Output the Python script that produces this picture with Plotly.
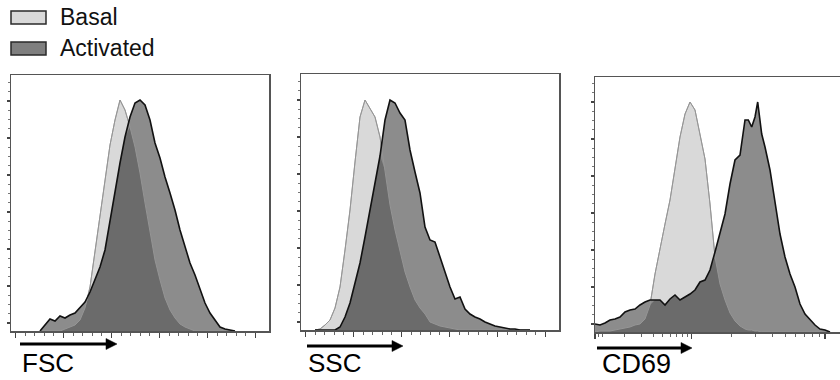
import numpy as np
import plotly.graph_objects as go

# ---------------- data (channel position, event height) ----------------
# Panel 1: FSC
fsc_x = [29, 34, 39, 44, 49, 54, 59, 64, 69, 74, 79, 84, 89, 94, 99, 104, 109, 114, 119, 124,
         129, 134, 139, 144, 149, 154, 159, 164, 169, 174, 179, 184, 189, 194, 199, 204, 209, 214, 219, 224]
fsc_basal = [0, 0, 0, 0, 0, 2, 4, 6, 11, 23, 44, 79, 114, 154, 186, 211, 231, 221, 204, 184,
             158, 128, 98, 71, 51, 33, 21, 13, 7, 4, 2, 0, 0, 0, 0, 0, 0, 0, 0, 0]
fsc_activated = [0, 6, 12, 10, 15, 13, 16, 18, 23, 29, 39, 51, 64, 81, 108, 139, 168, 194, 214, 228,
                 231, 226, 211, 188, 173, 154, 138, 121, 101, 84, 68, 56, 43, 28, 18, 11, 4, 2, 1, 0]

# Panel 2: SSC
ssc_x = [14, 19, 24, 29, 34, 39, 44, 49, 54, 59, 64, 69, 74, 79, 84, 89, 94, 99, 104, 109, 114, 119,
         124, 129, 134, 139, 144, 149, 154, 159, 164, 169, 174, 179, 184, 189, 194, 199, 204, 209, 214, 219, 224, 229]
ssc_basal = [0, 1, 5, 10, 22, 43, 80, 120, 168, 213, 230, 222, 213, 193, 160, 125, 100, 78, 58, 43, 30, 22,
             16, 8, 6, 4, 3, 2, 1, 0, 0, 0, 0, 0, 0, 0, 0, 0, 0, 0, 0, 0, 0, 0]
ssc_activated = [0, 0, 0, 0, 0, 3, 13, 27, 47, 67, 93, 120, 150, 174, 210, 230, 227, 217, 210, 180, 158, 137,
                 103, 90, 88, 73, 58, 43, 31, 33, 21, 16, 13, 11, 8, 6, 4, 3, 2, 1, 1, 0, 0, 0]

# Panel 3: CD69
cd69_x = [0, 5, 10, 15, 20, 25, 30, 35, 40, 45, 50, 55, 60, 65, 70, 75, 80, 85, 90, 95, 100, 105, 110, 115,
          120, 125, 130, 135, 140, 145, 150, 153.3, 156.7, 160, 162.7, 166.7, 170, 175, 180, 185, 190, 195,
          200, 205, 210, 215, 220, 225, 230, 235]
cd69_basal = [0, 1, 1, 1, 2, 3, 4, 5, 7, 8, 13, 27, 58, 85, 108, 132, 162, 195, 218, 230, 222, 198, 173, 128,
              75, 48, 32, 19, 11, 6, 3, 2, 2, 1, 1, 0, 0, 0, 0, 0, 0, 0, 0, 0, 0, 0, 0, 0, 0, 0]
cd69_activated = [8, 7, 9, 12, 13, 15, 20, 22, 23, 27, 30, 32, 32, 32, 27, 33, 37, 32, 35, 38, 42, 50, 52, 62,
                  80, 98, 118, 148, 172, 177, 212, 212, 205, 215, 230, 198, 185, 162, 128, 98, 75, 58,
                  45, 28, 18, 12, 7, 3, 2, 0]

labels = ["FSC", "SSC", "CD69"]
legend_names = ["Basal", "Activated"]

# ---------------- styling ----------------
W, H = 840, 380
FONT = "Liberation Sans, Arial, sans-serif"
BASAL_FILL = "#d9d9d9"
BASAL_LINE = "#a3a3a3"
ACT_FILL = "#8c8c8c"
OVERLAP_FILL = "#6b6b6b"
ACT_LINE = "#111111"
AXIS_COL = "#555555"


def px(x):
    return x / W


def py(y):
    return 1 - y / H


fig = go.Figure()

panels = [
    (fsc_x, fsc_basal, fsc_activated),
    (ssc_x, ssc_basal, ssc_activated),
    (cd69_x, cd69_basal, cd69_activated),
]

for i, (xs, b, a) in enumerate(panels):
    xa = "x" if i == 0 else f"x{i+1}"
    ya = "y" if i == 0 else f"y{i+1}"
    b_arr = np.array(b, dtype=float)
    a_arr = np.array(a, dtype=float)
    ov = np.minimum(a_arr, b_arr)
    common = dict(xaxis=xa, yaxis=ya, mode="lines", hoverinfo="skip", showlegend=False)
    fig.add_trace(go.Scatter(x=xs, y=b_arr, fill="tozeroy", fillcolor=BASAL_FILL,
                             line=dict(color=BASAL_LINE, width=1), **common))
    fig.add_trace(go.Scatter(x=xs, y=a_arr, fill="tozeroy", fillcolor=ACT_FILL,
                             line=dict(width=0), **common))
    fig.add_trace(go.Scatter(x=xs, y=ov, fill="tozeroy", fillcolor=OVERLAP_FILL,
                             line=dict(width=0), **common))
    fig.add_trace(go.Scatter(x=xs, y=b_arr, line=dict(color="#959595", width=1), **common))
    fig.add_trace(go.Scatter(x=xs, y=a_arr, line=dict(color=ACT_LINE, width=1.6), **common))

# panel geometry (pixels): left, right, top, bottom
geo = [(11, 269, 75, 331), (301, 559, 74, 330), (595, 840, 77, 332)]
xranges = [[0, 258], [0, 258], [0, 245]]

lin_major = [4.5, 52.5, 100.5, 148.5, 196.5, 244.5]
lin_minor = [4.5 + 9.6 * k for k in range(26) if k % 5 != 0]
log_major = [0, 96.7, 230]
log_minor = [3, 7, 29, 46, 58, 67.6, 75, 81.7, 87.3, 92.3,
             136.7, 160.3, 177, 190, 200.3, 209.3, 217, 224]
majors = [lin_major, lin_major, log_major]
minors = [lin_minor, lin_minor, log_minor]

layout_axes = {}
for i, (l, r, t, btm) in enumerate(geo):
    xname = "xaxis" if i == 0 else f"xaxis{i+1}"
    yname = "yaxis" if i == 0 else f"yaxis{i+1}"
    yid = "y" if i == 0 else f"y{i+1}"
    xid = "x" if i == 0 else f"x{i+1}"
    layout_axes[xname] = dict(
        domain=[px(l), min(px(r), 1.0)], range=xranges[i], anchor=yid,
        showline=True, linecolor=AXIS_COL, linewidth=1.5, mirror=True,
        ticks="outside", tickmode="array", tickvals=majors[i], ticklen=5, tickwidth=1.2,
        tickcolor="#444", showticklabels=False, showgrid=False, zeroline=False,
        minor=dict(tickmode="array", tickvals=minors[i], ticks="outside", ticklen=3,
                   tickwidth=1, tickcolor="#666", showgrid=False),
        fixedrange=True,
    )
    layout_axes[yname] = dict(
        domain=[py(btm), py(t)], range=[0, btm - t], anchor=xid,
        showline=True, linecolor=AXIS_COL, linewidth=1.5, mirror=(i < 2),
        ticks="outside", tickmode="linear", tick0=8, dtick=37, ticklen=3, tickwidth=1.2,
        tickcolor="#444", showticklabels=False, showgrid=False, zeroline=False,
        minor=dict(dtick=9.25, tick0=8, ticks="outside", ticklen=2, tickwidth=1,
                   tickcolor="#777", showgrid=False),
        fixedrange=True,
    )

shapes = []
annotations = []

# arrows under each panel
arrows = [(20, 117, 344), (307, 403, 346), (597, 692, 348)]
for (x0, x1, y) in arrows:
    shapes.append(dict(type="line", xref="paper", yref="paper",
                       x0=px(x0), x1=px(x1 - 8), y0=py(y), y1=py(y),
                       line=dict(color="black", width=3)))
    path = (f"M {px(x1-11)},{py(y-5.5)} L {px(x1)},{py(y)} "
            f"L {px(x1-11)},{py(y+5.5)} Z")
    shapes.append(dict(type="path", xref="paper", yref="paper", path=path,
                       fillcolor="black", line=dict(color="black", width=0.5)))

label_pos = [(20, 363, 26), (306, 363, 26), (600, 364, 27)]
for txt, (x, y, s) in zip(labels, label_pos):
    annotations.append(dict(text=txt, xref="paper", yref="paper", x=px(x), y=py(y),
                            xanchor="left", yanchor="middle", showarrow=False,
                            font=dict(family=FONT, size=s, color="black")))

# legend (manual)
legend_items = [(legend_names[0], BASAL_FILL, 11, 24, 17),
                (legend_names[1], "#7f7f7f", 42, 55, 48)]
for name, col, y0, y1, ty in legend_items:
    shapes.append(dict(type="rect", xref="paper", yref="paper",
                       x0=px(11), x1=px(46), y0=py(y1), y1=py(y0),
                       fillcolor=col, line=dict(color="#2a2a2a", width=1.5)))
    annotations.append(dict(text=name, xref="paper", yref="paper", x=px(58), y=py(ty),
                            xanchor="left", yanchor="middle", showarrow=False,
                            font=dict(family=FONT, size=23, color="#111")))

fig.update_layout(
    width=W, height=H, margin=dict(l=0, r=0, t=0, b=0),
    paper_bgcolor="white", plot_bgcolor="white", showlegend=False,
    shapes=shapes, annotations=annotations, **layout_axes,
)

fig.write_html("out.html", config={"displayModeBar": False, "staticPlot": True},
               post_script="document.body.style.margin='0';document.body.style.overflow='hidden';")
